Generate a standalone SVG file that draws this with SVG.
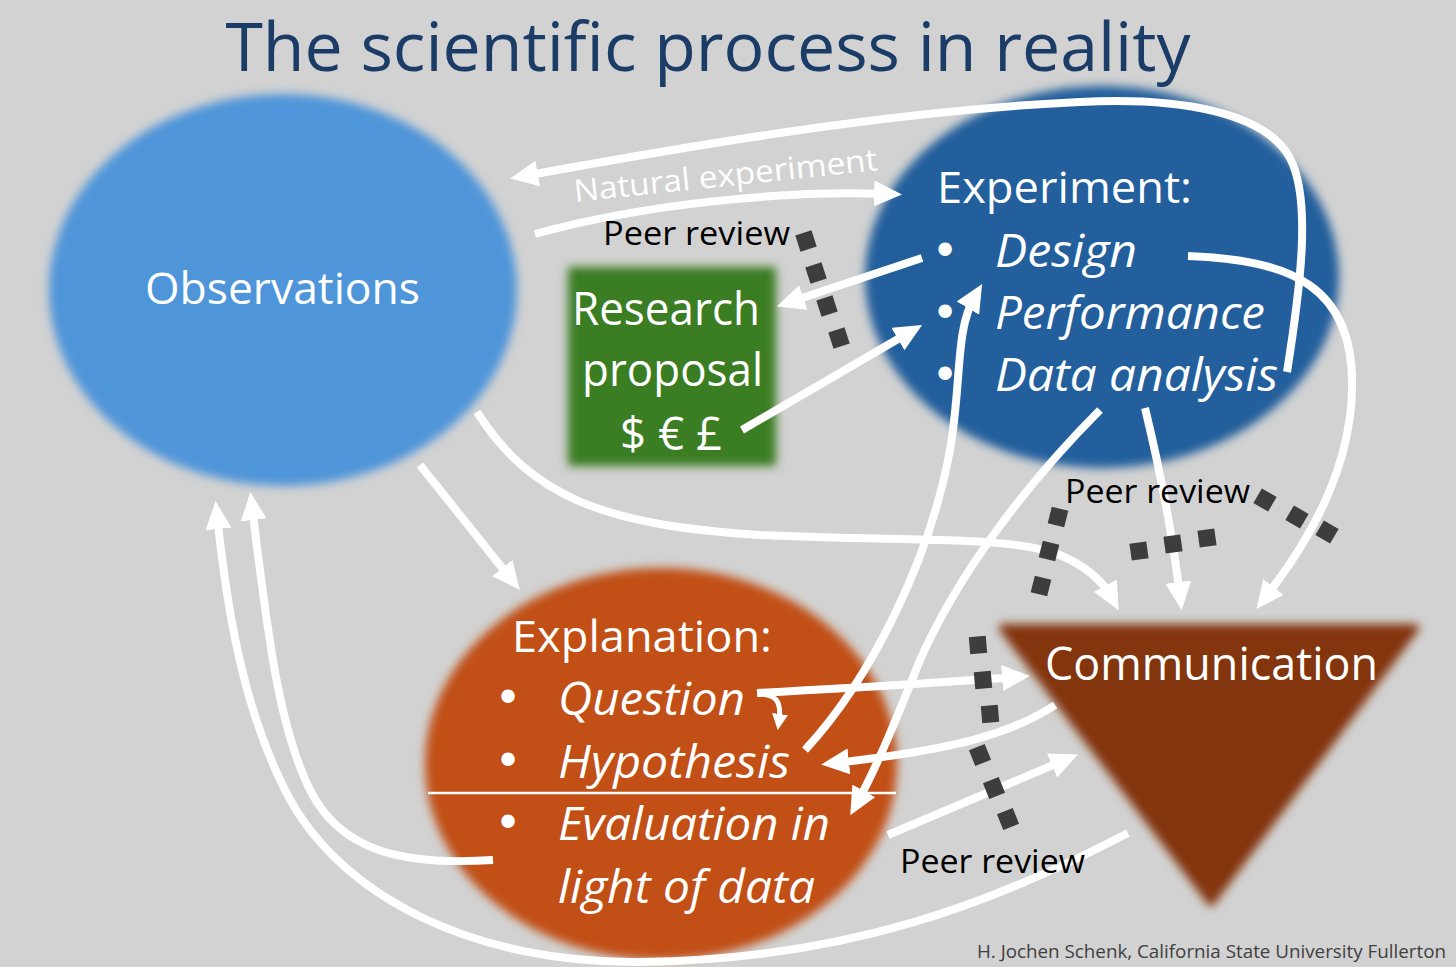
<svg xmlns="http://www.w3.org/2000/svg" width="1456" height="967" viewBox="0 0 1456 967">
<defs>
<style>
text{font-family:"Open Sans","Noto Sans","Liberation Sans",sans-serif;}
.w{fill:#ffffff;}
.lbl{font-size:44px;}
.it{font-size:46px;font-style:italic;}
.bul{font-family:"DejaVu Sans",sans-serif;font-size:46px;}
.pr{font-size:32px;fill:#000000;}
.con{fill:none;stroke:#ffffff;stroke-width:8;marker-end:url(#ah);}
.dot{fill:#3d3d3d;}
</style>
<filter id="soft" x="-10%" y="-10%" width="120%" height="120%">
<feGaussianBlur stdDeviation="5"/>
</filter>
<marker id="ah" markerUnits="userSpaceOnUse" markerWidth="30" markerHeight="28" refX="14" refY="13" orient="auto">
<path d="M0,0 L28,13 L0,26 z" fill="#ffffff"/>
</marker>
<marker id="ahs" markerUnits="userSpaceOnUse" markerWidth="18" markerHeight="18" refX="7" refY="8" orient="auto">
<path d="M0,0 L16,8 L0,16 z" fill="#ffffff"/>
</marker>
</defs>
<rect x="0" y="0" width="1456" height="967" fill="#d2d2d2"/>
<text x="708" y="71" font-size="68" fill="#1b3c66" text-anchor="middle">The scientific process in reality</text>

<g id="observations">
<ellipse cx="283" cy="290" rx="234" ry="196" fill="#4f95d9" filter="url(#soft)"/>
<text class="w lbl" x="145" y="304" textLength="275" lengthAdjust="spacingAndGlyphs">Observations</text>
</g>

<g id="experiment">
<ellipse cx="1102" cy="277" rx="237" ry="191" fill="#215e9c" filter="url(#soft)"/>
<text class="w lbl" x="937" y="203" textLength="255" lengthAdjust="spacingAndGlyphs">Experiment:</text>
<text class="w bul" x="945" y="267" text-anchor="middle">•</text>
<text class="w bul" x="945" y="329" text-anchor="middle">•</text>
<text class="w bul" x="945" y="391" text-anchor="middle">•</text>
<text class="w it" x="995" y="267" textLength="142" lengthAdjust="spacingAndGlyphs">Design</text>
<text class="w it" x="995" y="329" textLength="270" lengthAdjust="spacingAndGlyphs">Performance</text>
<text class="w it" x="995" y="391" textLength="283" lengthAdjust="spacingAndGlyphs">Data analysis</text>
</g>

<g id="research-proposal">
<rect x="568" y="267" width="208" height="199" fill="#3b7d23" filter="url(#soft)"/>
<text class="w" x="572" y="325" font-size="46" textLength="188" lengthAdjust="spacingAndGlyphs">Research</text>
<text class="w" x="582" y="386" font-size="46" textLength="181" lengthAdjust="spacingAndGlyphs">proposal</text>
<text class="w" x="620" y="450" font-size="46" textLength="102" lengthAdjust="spacingAndGlyphs">$ € £</text>
</g>

<g id="explanation">
<ellipse cx="661" cy="764" rx="236" ry="196" fill="#c14f15" filter="url(#soft)"/>
<text class="w lbl" x="512" y="652" textLength="260" lengthAdjust="spacingAndGlyphs">Explanation:</text>
<text class="w bul" x="508" y="714" text-anchor="middle">•</text>
<text class="w bul" x="508" y="777" text-anchor="middle">•</text>
<text class="w bul" x="508" y="839" text-anchor="middle">•</text>
<text class="w it" x="558" y="715" textLength="187" lengthAdjust="spacingAndGlyphs">Question</text>
<text class="w it" x="558" y="778" textLength="232" lengthAdjust="spacingAndGlyphs">Hypothesis</text>
<line x1="428" y1="793" x2="896" y2="793" stroke="#ffffff" stroke-width="2.5"/>
<text class="w it" x="558" y="840" textLength="272" lengthAdjust="spacingAndGlyphs">Evaluation in</text>
<text class="w it" x="558" y="903" textLength="257" lengthAdjust="spacingAndGlyphs">light of data</text>
</g>

<g id="communication">
<path d="M1003,628 L1415,628 L1211,902 Z" fill="#833410" stroke="#833410" stroke-width="8" stroke-linejoin="round" filter="url(#soft)"/>
<text class="w" x="1045" y="680" font-size="46" textLength="333" lengthAdjust="spacingAndGlyphs">Communication</text>
</g>

<g id="connectors">
<path class="con" d="M1287,372 C1300,290 1312,200 1290,158 C1265,112 1180,97 1080,102 C900,110 700,144 524,176"/>
<path class="con" d="M535,234 C640,205 780,190 888,194"/>
<path class="con" d="M922,258 L790,302"/>
<path class="con" d="M742,430 L910,332"/>
<path class="con" d="M420,465 L511,579"/>
<path class="con" d="M477,412 C530,495 600,525 760,535 C900,542 1010,535 1060,555 C1090,568 1105,585 1112,598"/>
<path class="con" d="M805,750 C870,680 930,560 950,450 C962,380 955,330 975,296"/>
<path class="con" d="M1100,410 C1030,480 960,570 920,660 C900,710 878,765 857,803"/>
<path class="con" d="M1145,408 C1160,470 1172,530 1180,596"/>
<path class="con" d="M1188,256 C1290,260 1355,285 1352,390 C1350,470 1310,540 1265,598"/>
<path class="con" d="M757,693 C850,688 950,682 1016,677"/>
<path d="M758,694 C775,694 782,700 779,721" fill="none" stroke="#ffffff" stroke-width="5" marker-end="url(#ahs)"/>
<path class="con" d="M1055,705 C1010,735 950,750 835,763"/>
<path class="con" d="M888,835 L1065,760"/>
<path class="con" d="M493,860 C400,866 340,850 310,790 C280,730 268,640 252,506"/>
<path class="con" d="M1128,833 C1000,900 850,960 640,962 C480,964 340,900 285,790 C245,710 228,620 217,515"/>
</g>

<g id="labels">
<text class="w" x="575" y="202" font-size="31" transform="rotate(-6 575 202)" textLength="305" lengthAdjust="spacingAndGlyphs">Natural experiment</text>
<text class="pr" x="603" y="245" textLength="187" lengthAdjust="spacingAndGlyphs">Peer review</text>
<text class="pr" x="1065" y="503" textLength="185" lengthAdjust="spacingAndGlyphs">Peer review</text>
<text class="pr" x="900" y="873" textLength="185" lengthAdjust="spacingAndGlyphs">Peer review</text>
<text x="977" y="958" font-size="18" fill="#404040" textLength="469" lengthAdjust="spacingAndGlyphs">H. Jochen Schenk, California State University Fullerton</text>
</g>

<g id="peer-review-dots">
<rect class="dot" x="-8.5" y="-8.5" width="17" height="17" transform="translate(806 241) rotate(-18)"/>
<rect class="dot" x="-8.5" y="-8.5" width="17" height="17" transform="translate(816 273) rotate(-18)"/>
<rect class="dot" x="-8.5" y="-8.5" width="17" height="17" transform="translate(827 306) rotate(-18)"/>
<rect class="dot" x="-8.5" y="-8.5" width="17" height="17" transform="translate(839 338) rotate(-18)"/>
<rect class="dot" x="-8.5" y="-8.5" width="17" height="17" transform="translate(1058 517) rotate(14)"/>
<rect class="dot" x="-8.5" y="-8.5" width="17" height="17" transform="translate(1049 551) rotate(14)"/>
<rect class="dot" x="-8.5" y="-8.5" width="17" height="17" transform="translate(1041 586) rotate(14)"/>
<rect class="dot" x="-8.5" y="-8.5" width="17" height="17" transform="translate(1265 500) rotate(30)"/>
<rect class="dot" x="-8.5" y="-8.5" width="17" height="17" transform="translate(1297 517) rotate(30)"/>
<rect class="dot" x="-8.5" y="-8.5" width="17" height="17" transform="translate(1327 532) rotate(30)"/>
<rect class="dot" x="-8.5" y="-8.5" width="17" height="17" transform="translate(1139 551) rotate(-8)"/>
<rect class="dot" x="-8.5" y="-8.5" width="17" height="17" transform="translate(1173 544) rotate(-8)"/>
<rect class="dot" x="-8.5" y="-8.5" width="17" height="17" transform="translate(1207 538) rotate(-8)"/>
<rect class="dot" x="-8.5" y="-8.5" width="17" height="17" transform="translate(978 645) rotate(-5)"/>
<rect class="dot" x="-8.5" y="-8.5" width="17" height="17" transform="translate(983 680) rotate(-5)"/>
<rect class="dot" x="-8.5" y="-8.5" width="17" height="17" transform="translate(990 714) rotate(-5)"/>
<rect class="dot" x="-8.5" y="-8.5" width="17" height="17" transform="translate(980 755) rotate(-22)"/>
<rect class="dot" x="-8.5" y="-8.5" width="17" height="17" transform="translate(994 788) rotate(-22)"/>
<rect class="dot" x="-8.5" y="-8.5" width="17" height="17" transform="translate(1008 819) rotate(-22)"/>
</g>
</svg>
